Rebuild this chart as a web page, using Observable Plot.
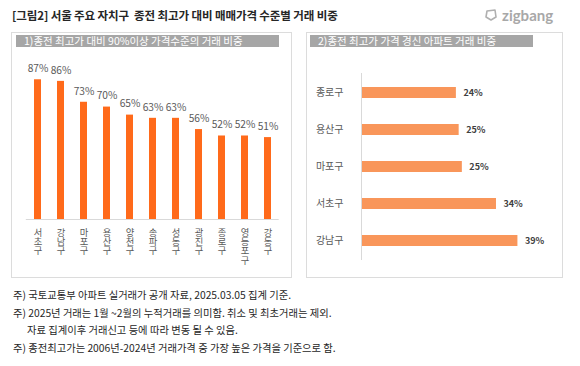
<!DOCTYPE html>
<html><head><meta charset="utf-8">
<script src="https://cdn.jsdelivr.net/npm/d3@7"></script>
<script src="https://cdn.jsdelivr.net/npm/@observablehq/plot@0.6"></script>
<style>
body{margin:0;background:#fff;font-family:"Noto Sans CJK KR","Noto Sans",sans-serif;}
#wrap{position:relative;width:580px;height:366px;overflow:hidden;background:#fff;}
.abs{position:absolute;white-space:nowrap;}
.panel{position:absolute;border:1px solid #dcdcdc;box-sizing:border-box;}
.hdr{position:absolute;background:#a6a6a6;color:#fff;font-size:10.5px;line-height:12px;height:12px;box-sizing:border-box;padding-left:8px;white-space:nowrap;}
.title{left:12px;top:7px;font-size:11.5px;font-weight:600;color:#262626;letter-spacing:-0.1px;}
.logo{left:484px;top:6px;font-family:Lato,"Open Sans",sans-serif;font-size:15px;color:#a8a8a8;font-weight:700;}
.note{left:13px;font-size:10.3px;color:#262626;}
</style></head><body>
<div id="wrap">
  <div class="abs title">[그림2] 서울 주요 자치구&nbsp; 종전 최고가 대비 매매가격 수준별 거래 비중</div>
  <div class="abs logo"><svg width="14" height="14" viewBox="0 0 14 14" style="vertical-align:-1px;margin-right:4px"><path d="M3 3 L11 2 L12 9 L7 12 L2 9 Z" fill="none" stroke="#b0b0b0" stroke-width="1.6" stroke-linejoin="round"/></svg>zigbang</div>
  <div class="panel" style="left:11px;top:32px;width:281px;height:246px;"></div>
  <div class="panel" style="left:306px;top:32px;width:257px;height:246px;"></div>
  <div class="hdr" style="left:16px;top:35px;width:263px;">1)종전 최고가 대비 90%이상 가격수준의 거래 비중</div>
  <div class="hdr" style="left:310px;top:35px;width:223px;">2)종전 최고가 가격 경신 아파트 거래 비중</div>
  <div id="left" class="abs" style="left:11px;top:32px;"></div>
  <div id="right" class="abs" style="left:306px;top:32px;"></div>
  <div class="abs note" style="top:287px;">주) 국토교통부 아파트 실거래가 공개 자료, 2025.03.05 집계 기준.</div>
  <div class="abs note" style="top:305px;">주) 2025년 거래는 1월 ~2월의 누적거래를 의미함. 취소 및 최초거래는 제외.</div>
  <div class="abs note" style="top:322px;left:27px;">자료 집계이후 거래신고 등에 따라 변동 될 수 있음.</div>
  <div class="abs note" style="top:340px;">주) 종전최고가는 2006년-2024년 거래가격 중 가장 높은 가격을 기준으로 함.</div>
</div>
<script>
const leftDistricts = ["서초구","강남구","마포구","용산구","양천구","송파구","성동구","광진구","종로구","영등포구","강동구"];
const leftValues = [87,86,73,70,65,63,63,56,52,52,51];
const rightDistricts = ["종로구","용산구","마포구","서초구","강남구"];
const rightValues = [23.9,24.6,25.4,34.0,39.4];

const font = '"Noto Sans CJK KR","Noto Sans",sans-serif';
const leftData = leftDistricts.map((d,i)=>({district:d, value:leftValues[i]}));
const rightData = rightDistricts.map((d,i)=>({district:d, value:rightValues[i]}));

const left = Plot.plot({
  width:281, height:246, marginTop:26.4, marginBottom:59, marginLeft:5.8, marginRight:4.3,
  x:{domain:leftDistricts, padding:0.7},
  y:{domain:[0,100], axis:null},
  style:{fontFamily:font, background:"transparent", overflow:"visible"},
  marks:[
    Plot.barY(leftData,{x:"district",y:"value",fill:"#FF6A1A"}),
    Plot.ruleY([0],{stroke:"#d9d9d9",insetLeft:9,insetRight:9}),
    Plot.text(leftData,{x:"district",y:"value",text:d=>d.value+"%",dy:-11,fontSize:10.2,fill:"#595959"}),
    Plot.axisX({label:null,tickSize:0,tickPadding:8,fontSize:9.3,fill:"#595959"})
  ]
});
// vertical (upright) writing for the district tick labels
left.querySelectorAll('g[aria-label="x-axis tick label"] text').forEach(t => {
  t.removeAttribute("dy");
  t.setAttribute("y", 0);
  t.style.writingMode = "vertical-rl";
  t.style.textOrientation = "upright";
  t.setAttribute("text-anchor", "start");
});
document.getElementById("left").appendChild(left);

const right = Plot.plot({
  width:257, height:246, marginTop:28.4, marginBottom:4.6, marginLeft:55, marginRight:43.2,
  x:{domain:[0,40], axis:null},
  y:{domain:rightDistricts, padding:0.69},
  style:{fontFamily:font, background:"transparent", overflow:"visible"},
  marks:[
    Plot.barX(rightData,{y:"district",x:"value",fill:"#F9965A"}),
    Plot.ruleX([0],{stroke:"#d9d9d9",insetTop:12.6,insetBottom:13.4}),
    Plot.text(rightData,{y:"district",x:"value",text:d=>Math.round(d.value)+"%",dx:7,textAnchor:"start",fontWeight:"bold",fontSize:9,fill:"#404040"}),
    Plot.axisY({label:null,tickSize:0,tickPadding:18,fontSize:10,fill:"#595959"})
  ]
});
document.getElementById("right").appendChild(right);
</script>
</body></html>
